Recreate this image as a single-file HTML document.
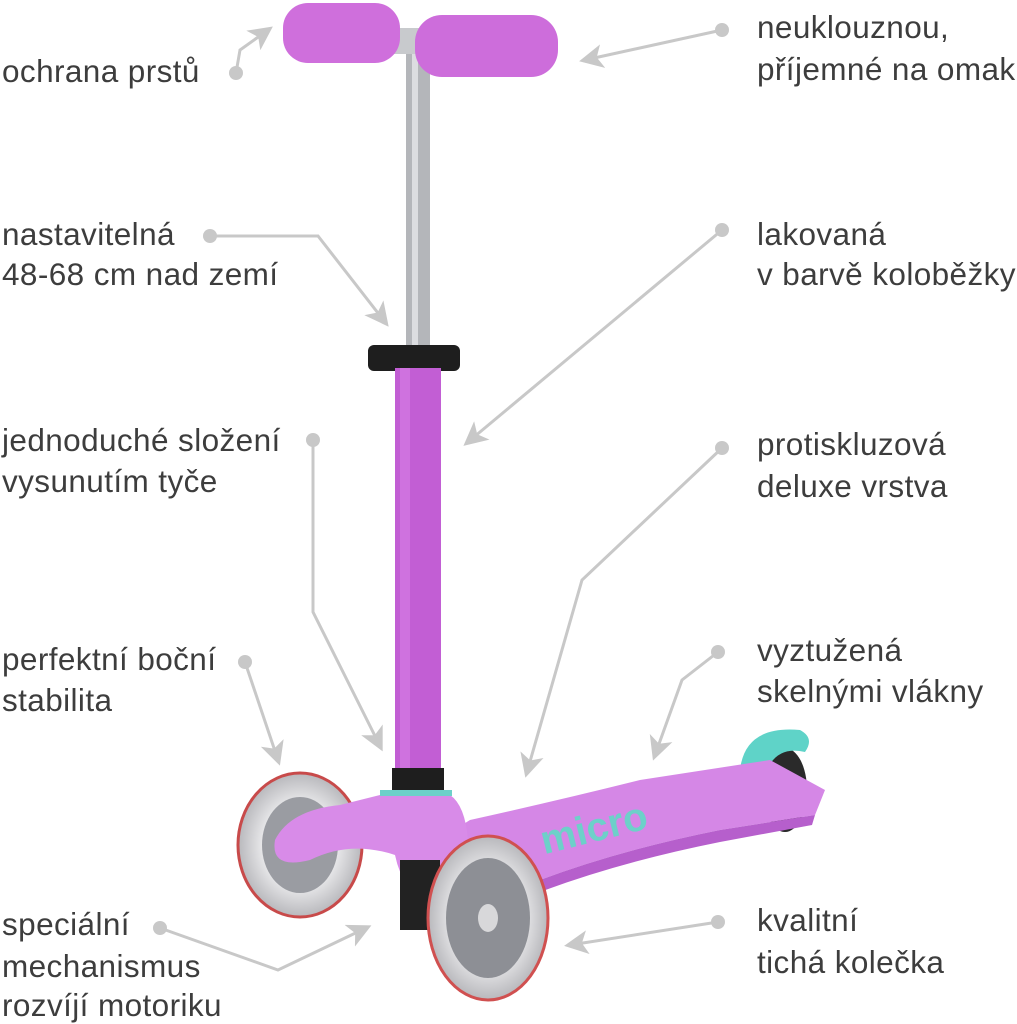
<!DOCTYPE html>
<html><head><meta charset="utf-8"><style>
html,body{margin:0;padding:0;background:#fff;width:1017px;height:1024px;overflow:hidden}
svg{display:block}
text{font-family:"Liberation Sans",sans-serif;font-size:31.5px;letter-spacing:0.4px;fill:#3d3d3d}
</style></head><body>
<svg width="1017" height="1024" viewBox="0 0 1017 1024">
<defs>
<marker id="a" markerWidth="8" markerHeight="8" refX="6" refY="4" orient="auto" markerUnits="strokeWidth"><path d="M0,0 L8,4 L0,8 L2,4 Z" fill="#c8c8c8"/></marker>
<radialGradient id="wh" cx="50%" cy="50%" r="50%"><stop offset="0.6" stop-color="#e8e8ea"/><stop offset="1" stop-color="#b8b8bc"/></radialGradient>
</defs>
<g stroke="#c8c8c8" stroke-width="3" fill="none" marker-end="url(#a)">
<path d="M236,73 L240,50 L268,30"/>
<path d="M722,30 L585,60"/>
<path d="M210,236 L318,236 L385,322"/>
<path d="M722,230 L468,442"/>
<path d="M313,440 L313,612 L380,746"/>
<path d="M722,448 L582,580 L527,772"/>
<path d="M245,662 L278,760"/>
<path d="M718,652 L682,680 L655,755"/>
<path d="M160,928 L278,970 L366,928"/>
<path d="M718,922 L570,945"/>
</g>
<g fill="#c8c8c8">
<circle cx="236" cy="73" r="7"/><circle cx="722" cy="30" r="7"/><circle cx="210" cy="236" r="7"/>
<circle cx="722" cy="230" r="7"/><circle cx="313" cy="440" r="7"/><circle cx="722" cy="448" r="7"/>
<circle cx="245" cy="662" r="7"/><circle cx="718" cy="652" r="7"/><circle cx="160" cy="928" r="7"/><circle cx="718" cy="922" r="7"/>
</g>
<rect x="406" y="48" width="24" height="300" fill="#b4b6ba"/>
<rect x="412" y="48" width="6" height="300" fill="#dcdde0"/>
<rect x="390" y="28" width="40" height="26" fill="#c8cacd"/>
<rect x="283" y="3" width="117" height="60" rx="25" fill="#cf6fdc"/>
<rect x="415" y="15" width="143" height="62" rx="27" fill="#cd6ddb"/>
<rect x="368" y="345" width="92" height="26" rx="6" fill="#1e1e1e"/>
<rect x="395" y="368" width="46" height="410" fill="#c25ed4"/>
<rect x="400" y="368" width="10" height="410" fill="#cf72df"/>
<ellipse cx="785" cy="790" rx="22" ry="42" fill="#2a2a2a"/>
<path d="M740,770 Q745,725 800,730 Q815,738 805,752 Q775,745 765,775 Z" fill="#5fd3c8"/>
<path d="M430,845 L470,820 Q560,800 640,780 L770,760 L825,790 L815,815 L720,830 Q620,850 540,880 L470,900 Z" fill="#d587e6"/>
<path d="M470,900 L540,880 Q620,850 720,830 L815,815 L812,825 L720,842 Q620,862 540,892 L470,912Z" fill="#b65fcc"/>
<text x="540" y="840" style="font-size:40px;fill:#6dd0c9;font-weight:bold;letter-spacing:0" transform="rotate(-14 600 830)">micro</text>
<ellipse cx="300" cy="845" rx="62" ry="72" fill="url(#wh)" stroke="#c84a4a" stroke-width="3"/>
<ellipse cx="300" cy="845" rx="38" ry="48" fill="#9a9ca2"/>
<rect x="392" y="768" width="52" height="30" fill="#1e1e1e"/>
<path d="M380,795 L450,795 Q465,805 468,840 Q455,880 445,900 L420,905 Q400,880 395,855 Q350,840 310,860 Q270,870 275,840 Q290,810 340,805 Z" fill="#d88be8"/>
<rect x="380" y="790" width="72" height="6" fill="#6dd0c9"/>
<path d="M400,860 L440,860 L440,930 L400,930 Z" fill="#222"/>
<ellipse cx="488" cy="918" rx="60" ry="82" fill="url(#wh)" stroke="#d05050" stroke-width="3"/>
<ellipse cx="488" cy="918" rx="42" ry="60" fill="#8d8f95"/>
<ellipse cx="488" cy="918" rx="10" ry="14" fill="#d8d8da"/>
<text x="2" y="82">ochrana prstů</text>
<text x="757" y="38">neuklouznou,</text>
<text x="757" y="80">příjemné na omak</text>
<text x="2" y="245">nastavitelná</text>
<text x="2" y="285">48-68 cm nad zemí</text>
<text x="757" y="245">lakovaná</text>
<text x="757" y="285">v barvě koloběžky</text>
<text x="2" y="451">jednoduché složení</text>
<text x="2" y="492">vysunutím tyče</text>
<text x="757" y="455">protiskluzová</text>
<text x="757" y="497">deluxe vrstva</text>
<text x="2" y="670">perfektní boční</text>
<text x="2" y="711">stabilita</text>
<text x="757" y="661">vyztužená</text>
<text x="757" y="702">skelnými vlákny</text>
<text x="2" y="935">speciální</text>
<text x="2" y="977">mechanismus</text>
<text x="2" y="1016">rozvíjí motoriku</text>
<text x="757" y="931">kvalitní</text>
<text x="757" y="973">tichá kolečka</text>
</svg>
</body></html>
